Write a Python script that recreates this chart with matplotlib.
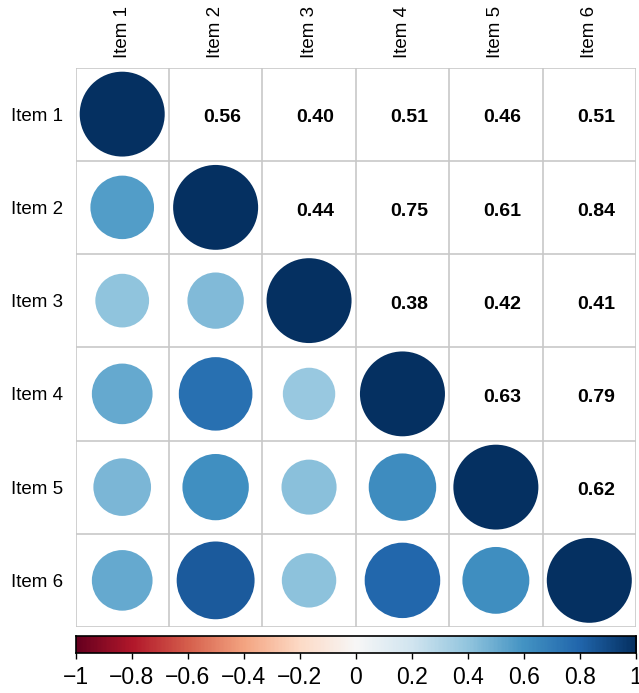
import numpy as np
import matplotlib.pyplot as plt
from matplotlib.patches import Circle

plt.rcParams['font.family'] = ['Liberation Sans', 'DejaVu Sans']

items = ["Item 1", "Item 2", "Item 3", "Item 4", "Item 5", "Item 6"]
# lower triangle of the correlation matrix, row by row
r21 = [0.56]
r3x = [0.40, 0.44]
r4x = [0.51, 0.75, 0.38]
r5x = [0.46, 0.61, 0.42, 0.63]
r6x = [0.51, 0.84, 0.41, 0.79, 0.62]

n = len(items)
corr = np.eye(n)
for i, row in enumerate([r21, r3x, r4x, r5x, r6x], start=1):
    for j, v in enumerate(row):
        corr[i, j] = v
        corr[j, i] = v

W, H = 639, 693
fig = plt.figure(figsize=(W / 100, H / 100), dpi=100)
x0, x1 = 75.5, 636
y0, y1 = 67.5, 627
ax = fig.add_axes([x0 / W, 1 - y1 / H, (x1 - x0) / W, (y1 - y0) / H])
cmap = plt.get_cmap('RdBu')

for i in range(n):
    for j in range(n):
        v = corr[i, j]
        col = cmap((v + 1) / 2)
        if j <= i:
            rad = 0.455 * np.sqrt(abs(v))
            ax.add_patch(Circle((j + 0.5, i + 0.5), rad, color=col, lw=0, zorder=2))
        else:
            ax.text(j + 0.57, i + 0.54, f"{v:.2f}", ha='center', va='center',
                    fontsize=14, fontweight='bold', color='black')

for k in range(n + 1):
    ax.axvline(k, color='#c8c8c8', lw=1.2, zorder=1)
    ax.axhline(k, color='#c8c8c8', lw=1.2, zorder=1)

ax.set_xlim(0, n)
ax.set_ylim(n, 0)
ax.set_aspect('auto')
for s in ax.spines.values():
    s.set_visible(False)
ax.set_xticks(np.arange(n) + 0.5)
ax.set_yticks(np.arange(n) + 0.5)
ax.set_xticklabels(items, rotation=90, fontsize=13.5)
ax.set_yticklabels(items, fontsize=13.5)
ax.xaxis.tick_top()
ax.tick_params(axis='y', length=0, pad=9)
ax.tick_params(axis='x', length=0, pad=7)

# colour legend
cax = fig.add_axes([x0 / W, 1 - 653 / H, (x1 - x0) / W, 17 / H])
grad = np.linspace(-1, 1, 400).reshape(1, -1)
cax.imshow(grad, cmap=cmap, vmin=-1, vmax=1, aspect='auto', extent=[-1, 1, 0, 1])
cax.set_yticks([])
ticks = np.round(np.arange(-1, 1.01, 0.2), 1)
cax.set_xticks(ticks)
cax.set_xticklabels([("\u2212" if t < 0 else "") + f"{abs(t):g}" for t in ticks], fontsize=16.5)
cax.tick_params(axis='x', length=4, width=1, pad=5)
for s in cax.spines.values():
    s.set_linewidth(1.2)

fig.savefig("out.png", dpi=100)
